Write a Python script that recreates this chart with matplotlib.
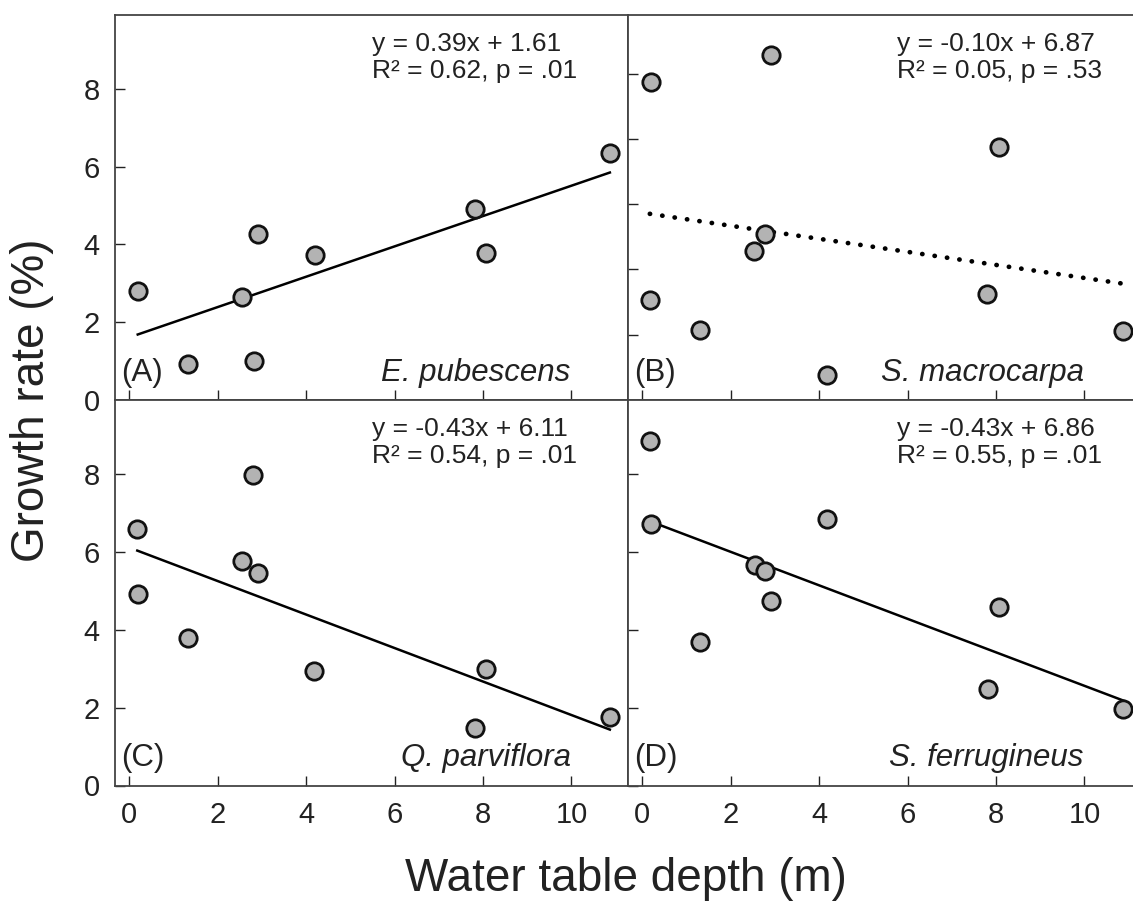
import matplotlib
matplotlib.use("Agg")
import matplotlib.pyplot as plt

plt.rcParams["font.family"] = ["Liberation Sans", "DejaVu Sans"]

# =========================
# DATA
# =========================
x_a = [0.19, 1.32, 2.56, 2.81, 2.91, 4.19, 7.82, 8.07, 10.87]
y_a = [2.79, 0.92, 2.65, 0.99, 4.27, 3.74, 4.90, 3.78, 6.35]

x_b = [0.19, 0.17, 1.31, 2.53, 2.78, 2.91, 4.18, 7.79, 8.06, 10.88]
y_b = [8.87, 5.53, 5.08, 6.29, 6.55, 9.28, 4.38, 5.62, 7.88, 5.05]

x_c = [0.18, 0.19, 1.33, 2.55, 2.91, 2.79, 4.17, 7.81, 8.07, 10.87]
y_c = [6.59, 4.92, 3.78, 5.77, 5.45, 7.97, 2.94, 1.48, 3.00, 1.76]

x_d = [0.17, 0.19, 1.31, 2.55, 2.78, 2.92, 4.18, 7.81, 8.06, 10.88]
y_d = [8.84, 6.72, 3.68, 5.65, 5.52, 4.75, 6.85, 2.47, 4.58, 1.97]

slopes = [0.39, -0.10, -0.43, -0.43]
intercepts = [1.61, 6.87, 6.11, 6.86]
eq_texts = [
    "y = 0.39x + 1.61\nR\u00b2 = 0.62, p = .01",
    "y = -0.10x + 6.87\nR\u00b2 = 0.05, p = .53",
    "y = -0.43x + 6.11\nR\u00b2 = 0.54, p = .01",
    "y = -0.43x + 6.86\nR\u00b2 = 0.55, p = .01",
]
panel_labels = ["(A)", "(B)", "(C)", "(D)"]
species = ["E. pubescens", "S. macrocarpa", "Q. parviflora", "S. ferrugineus"]

x_ticks = [0, 2, 4, 6, 8, 10]
y_ticks = [0, 2, 4, 6, 8]
y_ticks_b = [5, 6, 7, 8, 9]

# =========================
# LAYOUT
# =========================
W, H = 1133, 911
fig = plt.figure(figsize=(W / 100, H / 100), dpi=100)


def px_axes(left, top, right, bottom):
    return fig.add_axes([left / W, (H - bottom) / H, (right - left) / W, (bottom - top) / H])


ax_a = px_axes(115, 15, 628, 400)
ax_b = px_axes(628, 15, 1141, 400)
ax_c = px_axes(115, 400, 628, 785.5)
ax_d = px_axes(628, 400, 1141, 785.5)
axes = [ax_a, ax_b, ax_c, ax_d]
xs = [x_a, x_b, x_c, x_d]
ys = [y_a, y_b, y_c, y_d]
eq_x = [0.50, 0.525, 0.50, 0.525]

for i, ax in enumerate(axes):
    x, y = xs[i], ys[i]
    x0, x1 = min(x), max(x)
    line_y = [slopes[i] * x0 + intercepts[i], slopes[i] * x1 + intercepts[i]]
    if i == 1:
        ax.plot([x0, x1], line_y, color="black", lw=3.4,
                linestyle=(0, (0.05, 2.6)), dash_capstyle="round", zorder=2)
    else:
        ax.plot([x0, x1], line_y, color="black", lw=1.8, zorder=2)

    ax.plot(x, y, "o", ms=12.5, mfc="#b3b3b3", mec="#111111", mew=2.0,
            linestyle="none", zorder=3)

    ax.set_xlim(-0.324, 11.28)
    if i == 1:
        ax.set_ylim(4, 9.9)
        ax.set_yticks(y_ticks_b)
    else:
        ax.set_ylim(0, 9.9)
        ax.set_yticks(y_ticks)
    ax.set_xticks(x_ticks)

    ax.tick_params(direction="in", length=7, width=1, labelsize=21,
                   pad=11, colors="#222222", top=False, right=False)
    if i in (0, 1):
        ax.tick_params(labelbottom=False)
    if i in (1, 3):
        ax.tick_params(labelleft=False)

    for sp in ax.spines.values():
        sp.set_color("#444444")
        sp.set_linewidth(1.3)

    ax.text(eq_x[i], 0.955, eq_texts[i], transform=ax.transAxes,
            ha="left", va="top", fontsize=19, color="#222222", linespacing=1.15)
    ax.text(0.0125, 0.05, panel_labels[i], transform=ax.transAxes,
            ha="left", va="baseline", fontsize=22.5, color="#222222")
    ax.text(0.888, 0.05, species[i], transform=ax.transAxes,
            ha="right", va="baseline", fontsize=22.5, style="italic", color="#222222")

fig.text(32 / W, (H - 400) / H, "Growth rate (%)", rotation=90,
         ha="center", va="center", fontsize=33, color="#222222")
fig.text(626 / W, (H - 879) / H, "Water table depth (m)",
         ha="center", va="center", fontsize=33, color="#222222")

fig.savefig("out.png", dpi=100)
